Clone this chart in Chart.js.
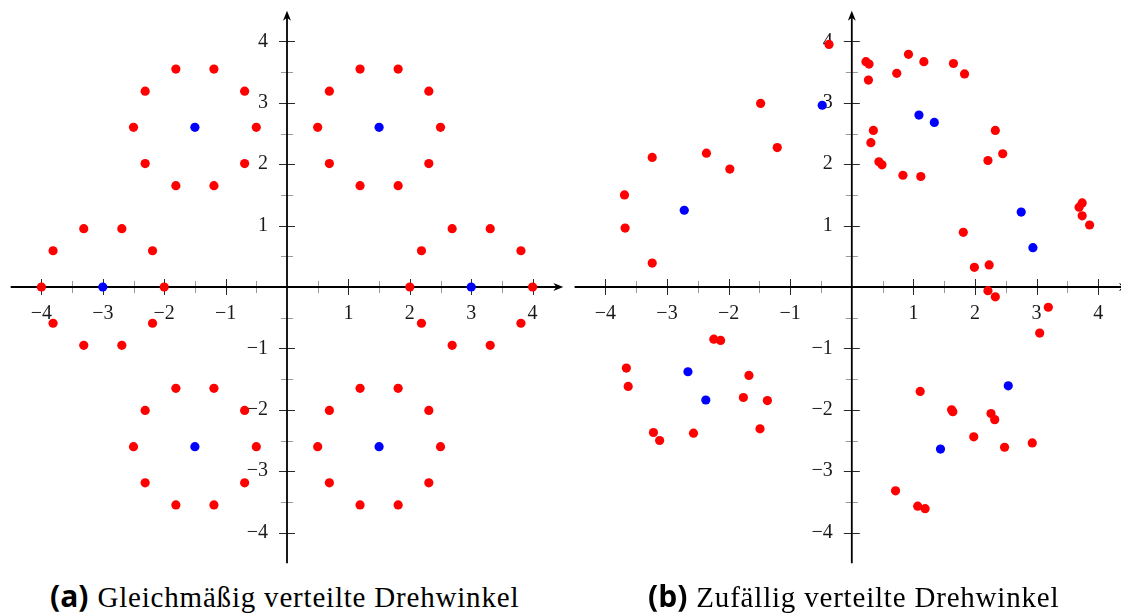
<!DOCTYPE html>
<html><head><meta charset="utf-8">
<script src="https://cdn.jsdelivr.net/npm/chart.js@4/dist/chart.umd.min.js"></script>
<style>
html,body{margin:0;padding:0;background:#fff;overflow:hidden;width:1121px;height:615px;}
#c1{position:absolute;left:0;top:0;}
#c2{position:absolute;left:570px;top:0;}
.cap{position:absolute;top:579px;white-space:nowrap;font-family:"Liberation Serif","DejaVu Serif",serif;font-size:29px;letter-spacing:0.8px;line-height:34px;color:#000;}
.cap b{font-family:"Open Sans","DejaVu Sans",sans-serif;font-weight:700;font-size:30px;letter-spacing:0;margin-right:9px;}
</style></head><body>
<canvas id="c1" width="580" height="575"></canvas>
<canvas id="c2" width="580" height="575"></canvas>
<div class="cap" style="left:50px"><b>(a)</b>Gleichmäßig verteilte Drehwinkel</div>
<div class="cap" style="left:648px"><b>(b)</b>Zufällig verteilte Drehwinkel</div>
<script>
// ---- data ----
const tickValues = [-4, -3, -2, -1, 1, 2, 3, 4];
const tickLabels = ['\u22124', '\u22123', '\u22122', '\u22121', '1', '2', '3', '4'];
const minorTickValues = [-3.5, -2.5, -1.5, -0.5, 0.5, 1.5, 2.5, 3.5];

// (a) evenly distributed rotation angles
const evenBlue = [[3,0],[1.5,2.6],[-1.5,2.6],[-3,0],[-1.5,-2.6],[1.5,-2.6]];
const evenRed = [
  [4,0],[3.81,0.59],[3.31,0.95],[2.69,0.95],[2.19,0.59],[2,0],[2.19,-0.59],[2.69,-0.95],[3.31,-0.95],[3.81,-0.59],
  [2.5,2.6],[2.31,3.19],[1.81,3.55],[1.19,3.55],[0.69,3.19],[0.5,2.6],[0.69,2.01],[1.19,1.65],[1.81,1.65],[2.31,2.01],
  [-0.5,2.6],[-0.69,3.19],[-1.19,3.55],[-1.81,3.55],[-2.31,3.19],[-2.5,2.6],[-2.31,2.01],[-1.81,1.65],[-1.19,1.65],[-0.69,2.01],
  [-2,0],[-2.19,0.59],[-2.69,0.95],[-3.31,0.95],[-3.81,0.59],[-4,0],[-3.81,-0.59],[-3.31,-0.95],[-2.69,-0.95],[-2.19,-0.59],
  [-0.5,-2.6],[-0.69,-2.01],[-1.19,-1.65],[-1.81,-1.65],[-2.31,-2.01],[-2.5,-2.6],[-2.31,-3.19],[-1.81,-3.55],[-1.19,-3.55],[-0.69,-3.19],
  [2.5,-2.6],[2.31,-2.01],[1.81,-1.65],[1.19,-1.65],[0.69,-2.01],[0.5,-2.6],[0.69,-3.19],[1.19,-3.55],[1.81,-3.55],[2.31,-3.19]
];

// (b) randomly distributed rotation angles
const randomBlue = [
  [-0.48,2.96],[-2.72,1.25],[1.09,2.80],[1.34,2.68],[2.75,1.22],[2.94,0.64],
  [-2.66,-1.38],[-2.37,-1.84],[2.54,-1.61],[1.44,-2.64]
];
const randomRed = [
  [-0.37,3.95],[0.23,3.67],[0.28,3.63],[0.27,3.37],[0.92,3.79],[0.73,3.48],[1.17,3.67],[1.65,3.64],[1.83,3.47],
  [-1.48,2.99],[-1.21,2.27],[-3.24,2.11],[-2.36,2.18],[-1.98,1.92],[-3.69,1.50],[-3.68,0.96],[-3.24,0.39],
  [0.35,2.55],[0.31,2.35],[0.44,2.04],[0.49,1.99],[0.83,1.82],[1.12,1.80],
  [2.33,2.55],[2.45,2.17],[2.21,2.06],[1.81,0.89],[1.99,0.32],[2.23,0.36],[2.21,-0.06],[2.33,-0.16],
  [3.69,1.30],[3.74,1.37],[3.74,1.16],[3.86,1.01],
  [3.19,-0.33],[3.05,-0.75],[-2.24,-0.85],[-2.13,-0.87],[-3.66,-1.32],[-3.63,-1.62],
  [-1.67,-1.44],[-1.76,-1.80],[-1.37,-1.85],[-1.49,-2.31],[-3.22,-2.37],[-3.12,-2.50],[-2.57,-2.38],
  [1.11,-1.70],[1.62,-2.00],[1.64,-2.03],[2.26,-2.06],[2.32,-2.16],[1.98,-2.44],[2.48,-2.61],[2.93,-2.54],
  [0.71,-3.32],[1.07,-3.57],[1.19,-3.61]
];

// ---- drawing ----
const axisPlugin = {
  id: 'axisPlugin',
  beforeDatasetsDraw(chart) {
    const ctx = chart.ctx, xs = chart.scales.x, ys = chart.scales.y;
    const x0 = xs.getPixelForValue(0), y0 = ys.getPixelForValue(0);
    const l = xs.getPixelForValue(xs.min), r = xs.getPixelForValue(xs.max);
    const t = ys.getPixelForValue(ys.max), b = ys.getPixelForValue(ys.min);
    ctx.save();
    ctx.lineWidth = 1; ctx.strokeStyle = '#9a9a9a';
    minorTickValues.forEach(v => {
      const px = Math.round(xs.getPixelForValue(v)) + 0.5;
      ctx.beginPath(); ctx.moveTo(px, y0 - 6); ctx.lineTo(px, y0 + 6); ctx.stroke();
      const py = Math.round(ys.getPixelForValue(v)) + 0.5;
      ctx.beginPath(); ctx.moveTo(x0 - 6, py); ctx.lineTo(x0 + 6, py); ctx.stroke();
    });
    ctx.strokeStyle = '#2a2a2a';
    tickValues.forEach(v => {
      const px = Math.round(xs.getPixelForValue(v)) + 0.5;
      ctx.beginPath(); ctx.moveTo(px, y0 - 8); ctx.lineTo(px, y0 + 8); ctx.stroke();
      const py = Math.round(ys.getPixelForValue(v)) + 0.5;
      ctx.beginPath(); ctx.moveTo(x0 - 8, py); ctx.lineTo(x0 + 8, py); ctx.stroke();
    });
    ctx.strokeStyle = '#000'; ctx.lineWidth = 1.8;
    ctx.beginPath(); ctx.moveTo(l, y0); ctx.lineTo(r - 3, y0); ctx.stroke();
    ctx.beginPath(); ctx.moveTo(x0, b); ctx.lineTo(x0, t + 3); ctx.stroke();
    ctx.fillStyle = '#000';
    ctx.beginPath(); ctx.moveTo(r, y0); ctx.lineTo(r - 10, y0 - 4); ctx.lineTo(r - 7, y0); ctx.lineTo(r - 10, y0 + 4); ctx.closePath(); ctx.fill();
    ctx.beginPath(); ctx.moveTo(x0, t); ctx.lineTo(x0 - 4, t + 10); ctx.lineTo(x0, t + 7); ctx.lineTo(x0 + 4, t + 10); ctx.closePath(); ctx.fill();
    ctx.restore();
  }
};

function labelFor(v) {
  const i = tickValues.indexOf(v);
  return i >= 0 ? tickLabels[i] : '';
}

function axisOpts(isX, min, max) {
  return {
    type: 'linear', min: min, max: max,
    position: 'center',
    afterFit(s) {
      if (isX) s.height = 0; else s.width = 0;
      s.paddingTop = 0; s.paddingBottom = 0; s.paddingLeft = 0; s.paddingRight = 0;
    },
    afterBuildTicks(s) { s.ticks = tickValues.map(v => ({ value: v })); },
    grid: { display: false, drawTicks: false },
    border: { display: false },
    ticks: {
      autoSkip: false, maxRotation: 0, minRotation: 0, padding: isX ? 15 : 19,
      color: '#1a1a1a',
      font: { family: '"Liberation Serif", "DejaVu Serif", serif', size: 20 },
      callback: (v) => labelFor(v)
    }
  };
}

function makeChart(id, red, blue, xMin, xMax, pad) {
  const toPts = arr => arr.map(p => ({ x: p[0], y: p[1] }));
  return new Chart(document.getElementById(id), {
    type: 'scatter',
    data: {
      datasets: [
        { data: toPts(red), backgroundColor: '#ff0000', borderWidth: 0, pointRadius: 4.6, pointHoverRadius: 4.6 },
        { data: toPts(blue), backgroundColor: '#0000ff', borderWidth: 0, pointRadius: 4.6, pointHoverRadius: 4.6 }
      ]
    },
    options: {
      responsive: false, animation: false,
      layout: { padding: pad },
      plugins: { legend: { display: false }, tooltip: { enabled: false } },
      scales: { x: axisOpts(true, xMin, xMax), y: axisOpts(false, -4.5, 4.5) }
    },
    plugins: [axisPlugin]
  });
}

makeChart('c1', evenRed, evenBlue, -4.5, 4.5, { left: 10.7, right: 16.7, top: 10.7, bottom: 11.7 });
makeChart('c2', randomRed, randomBlue, -4.5, 4.5, { left: 4.5, right: 21, top: 10.7, bottom: 11.7 });
</script>
</body></html>
